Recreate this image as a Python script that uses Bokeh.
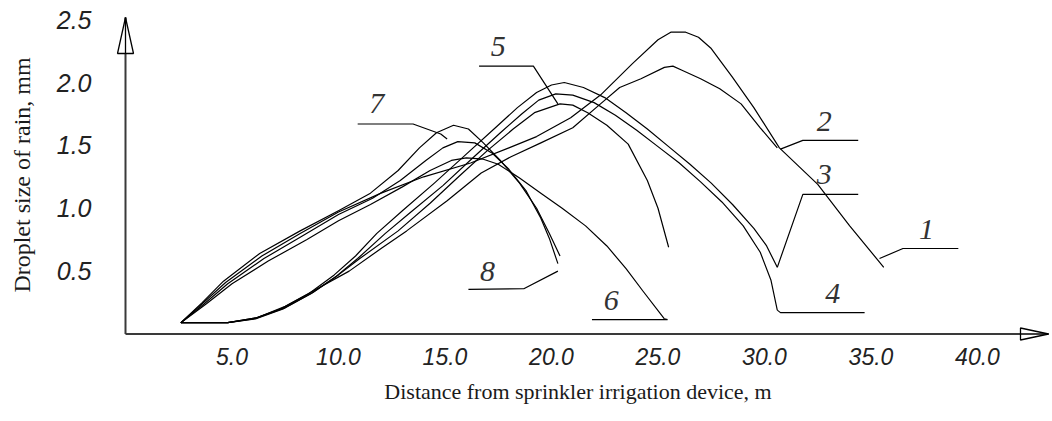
from bokeh.plotting import figure
from bokeh.models import Range1d, FixedTicker, PrintfTickFormatter
from bokeh.core.properties import value
from bokeh.embed import file_html
from bokeh.resources import INLINE

# ---- data (distance m, droplet size mm) ----
C1_X = [2.6, 3.6, 4.7, 6.4, 8.2, 10.0, 12.0, 14.0, 16.2, 18.0, 19.3, 20.9, 22.3, 23.8, 25.0, 25.6, 26.3, 26.9, 27.5, 28.5, 29.5, 30.7, 32.5, 34.0, 35.6]
C1_Y = [0.09, 0.24, 0.41, 0.62, 0.80, 0.97, 1.12, 1.25, 1.36, 1.48, 1.57, 1.72, 1.90, 2.15, 2.34, 2.40, 2.40, 2.36, 2.27, 2.04, 1.80, 1.48, 1.19, 0.86, 0.53]
C2_X = [2.6, 4.8, 6.2, 7.5, 9.0, 10.5, 12.0, 13.2, 15.1, 16.7, 18.1, 19.5, 21.0, 22.3, 23.2, 24.2, 25.3, 25.7, 26.1, 27.0, 27.9, 28.9, 29.8, 30.6]
C2_Y = [0.09, 0.09, 0.13, 0.22, 0.36, 0.50, 0.68, 0.82, 1.06, 1.28, 1.41, 1.52, 1.64, 1.83, 1.96, 2.03, 2.12, 2.13, 2.10, 2.03, 1.95, 1.83, 1.64, 1.48]
C3_X = [2.6, 4.8, 6.0, 7.3, 8.6, 9.8, 10.8, 11.8, 13.0, 14.5, 16.0, 17.3, 18.4, 19.3, 20.0, 20.6, 21.5, 22.5, 23.5, 24.5, 25.5, 26.5, 27.5, 28.5, 29.5, 30.1, 30.6]
C3_Y = [0.09, 0.09, 0.12, 0.20, 0.32, 0.47, 0.62, 0.80, 0.98, 1.20, 1.43, 1.63, 1.80, 1.92, 1.98, 2.00, 1.96, 1.88, 1.76, 1.63, 1.49, 1.35, 1.20, 1.03, 0.84, 0.70, 0.53]
C4_X = [2.6, 4.8, 6.1, 7.4, 8.7, 9.9, 10.9, 12.2, 13.4, 14.9, 16.3, 17.6, 18.6, 19.4, 20.2, 21.0, 22.0, 23.0, 24.0, 25.0, 26.0, 27.0, 28.0, 29.0, 29.8, 30.3, 30.6]
C4_Y = [0.09, 0.09, 0.12, 0.20, 0.32, 0.46, 0.60, 0.80, 0.97, 1.18, 1.40, 1.60, 1.75, 1.86, 1.91, 1.90, 1.84, 1.74, 1.62, 1.49, 1.36, 1.21, 1.05, 0.86, 0.65, 0.43, 0.19]
C5_X = [2.6, 4.8, 6.2, 7.5, 8.8, 10.0, 11.0, 12.8, 14.3, 15.7, 17.0, 18.2, 19.2, 20.4, 21.0, 21.7, 22.6, 23.6, 24.5, 25.0, 25.5]
C5_Y = [0.09, 0.09, 0.13, 0.21, 0.33, 0.47, 0.60, 0.82, 1.04, 1.26, 1.46, 1.63, 1.76, 1.83, 1.82, 1.76, 1.66, 1.51, 1.22, 1.00, 0.69]
C6_X = [2.6, 3.8, 5.0, 6.7, 8.5, 10.0, 11.5, 13.0, 14.3, 15.3, 16.0, 16.8, 17.5, 18.5, 19.5, 20.5, 21.6, 22.6, 23.5, 24.3, 25.3]
C6_Y = [0.09, 0.24, 0.40, 0.58, 0.75, 0.90, 1.03, 1.17, 1.30, 1.38, 1.40, 1.39, 1.35, 1.24, 1.12, 1.00, 0.86, 0.70, 0.52, 0.34, 0.12]
C7_X = [2.6, 3.6, 4.6, 6.3, 8.2, 10.0, 11.5, 12.8, 13.8, 14.6, 15.4, 16.1, 16.8, 17.6, 18.5, 19.3, 19.9, 20.4]
C7_Y = [0.09, 0.25, 0.42, 0.64, 0.82, 0.98, 1.12, 1.30, 1.48, 1.60, 1.66, 1.63, 1.52, 1.38, 1.20, 1.00, 0.80, 0.62]
C8_X = [2.6, 3.7, 4.8, 6.5, 8.3, 10.0, 11.6, 12.9, 14.1, 14.9, 15.6, 16.4, 17.2, 18.0, 18.8, 19.5, 19.9, 20.3]
C8_Y = [0.09, 0.24, 0.40, 0.60, 0.78, 0.95, 1.08, 1.22, 1.38, 1.48, 1.53, 1.52, 1.44, 1.31, 1.14, 0.92, 0.76, 0.56]

CURVES = [(C1_X, C1_Y), (C2_X, C2_Y), (C3_X, C3_Y), (C4_X, C4_Y),
          (C5_X, C5_Y), (C6_X, C6_Y), (C7_X, C7_Y), (C8_X, C8_Y)]

# curve labels and their leader lines (data coordinates)
LABELS = ["1", "2", "3", "4", "5", "6", "7", "8"]
LABEL_X = [37.6, 32.8, 32.8, 33.2, 17.5, 22.8, 11.8, 17.0]
LABEL_Y = [0.83, 1.69, 1.27, 0.32, 2.29, 0.27, 1.83, 0.50]
LEADER_X = [[35.4, 36.5, 39.1], [30.75, 31.8, 34.4], [30.6, 31.8, 34.4], [30.6, 30.75, 34.7],
            [16.6, 19.15, 20.3], [25.3, 25.45, 21.9], [10.9, 13.5, 14.8, 15.1], [20.3, 18.7, 16.1]]
LEADER_Y = [[0.60, 0.68, 0.68], [1.47, 1.54, 1.54], [0.53, 1.11, 1.11], [0.19, 0.17, 0.17],
            [2.13, 2.13, 1.83], [0.12, 0.115, 0.115], [1.67, 1.67, 1.59, 1.55], [0.50, 0.36, 0.355]]

X_TICKS = [5, 10, 15, 20, 25, 30, 35, 40]
Y_TICKS = [0.5, 1.0, 1.5, 2.0, 2.5]
X_TITLE = "Distance from sprinkler irrigation device, m"
Y_TITLE = "Droplet size of rain, mm"

# ---- layout (pixels) ----
W, H = 1050, 420
BL, BR, BT, BB = 105, 0, 8, 79
FW, FH = W - BL - BR, H - BT - BB
PX_PER_M, PX_PER_MM = 21.3, 125.75
ORIGIN_X, ORIGIN_Y = 20, 7.5          # axis origin offset inside the frame (px)
X0 = -ORIGIN_X / PX_PER_M
X1 = X0 + FW / PX_PER_M
Y0 = -ORIGIN_Y / PX_PER_MM
Y1 = Y0 + FH / PX_PER_MM
sx, sy = 1 / PX_PER_M, 1 / PX_PER_MM
Y_TIP = Y1 - 9 * sy                   # top of the y axis arrow
X_TIP = X1 - 2 * sx                   # end of the x axis arrow

p = figure(width=W, height=H, output_backend="svg", toolbar_location=None,
           x_range=Range1d(X0, X1), y_range=Range1d(Y0, Y1),
           min_border_left=BL, min_border_right=BR, min_border_top=BT, min_border_bottom=BB)
p.outline_line_color = None
p.grid.visible = False
p.background_fill_color = "white"

for ax in (p.xaxis[0], p.yaxis[0]):
    ax.axis_line_color = None
    ax.major_tick_line_color = None
    ax.minor_tick_line_color = None
    ax.major_label_text_font = "Liberation Sans"
    ax.major_label_text_font_style = "italic"
    ax.major_label_text_color = "#222222"
    ax.formatter = PrintfTickFormatter(format="%.1f")
    ax.axis_label_text_font = "Liberation Serif"
    ax.axis_label_text_font_style = "normal"
    ax.axis_label_text_color = "#1a1a1a"

p.xaxis[0].ticker = FixedTicker(ticks=X_TICKS)
p.yaxis[0].ticker = FixedTicker(ticks=Y_TICKS)
p.xaxis[0].major_label_text_font_size = "23px"
p.yaxis[0].major_label_text_font_size = "25px"
p.xaxis[0].axis_label_text_font_size = "22px"
p.yaxis[0].axis_label_text_font_size = "24px"
p.xaxis[0].major_label_standoff = 0
p.yaxis[0].major_label_standoff = 8
p.xaxis[0].axis_label = X_TITLE
p.yaxis[0].axis_label = Y_TITLE
p.xaxis[0].axis_label_standoff = 11
p.yaxis[0].axis_label_standoff = 19

# axis lines
AX_COL = "#3a3a3a"
p.line([0, 0], [0, Y_TIP], line_color=AX_COL, line_width=2)
p.line([0, X_TIP], [0, 0], line_color=AX_COL, line_width=2)

# curves
for xs, ys in CURVES:
    p.line(xs, ys, line_color="black", line_width=1.2, line_join="round")

# leaders and labels
for lx, ly in zip(LEADER_X, LEADER_Y):
    p.line(lx, ly, line_color="black", line_width=1.2)
p.text(x=LABEL_X, y=LABEL_Y, text=LABELS, text_font=value("Liberation Serif"),
       text_font_style="italic", text_font_size="30px", text_color="#333333",
       text_align="center", text_baseline="middle")

# axis arrow heads
p.patch([-8 * sx, 0, 8 * sx], [Y_TIP - 36 * sy, Y_TIP, Y_TIP - 36 * sy],
        fill_color="white", line_color="black", line_width=1.3)
p.line([0, 0], [Y_TIP - 36 * sy, Y_TIP], line_color="black", line_width=1.3)
p.patch([X_TIP - 28 * sx, X_TIP, X_TIP - 28 * sx], [6 * sy, 0, -6 * sy],
        fill_color="white", line_color="black", line_width=1.3)
p.line([X_TIP - 28 * sx, X_TIP], [0, 0], line_color="black", line_width=1.3)

open("out.html", "w").write(file_html(p, INLINE))
